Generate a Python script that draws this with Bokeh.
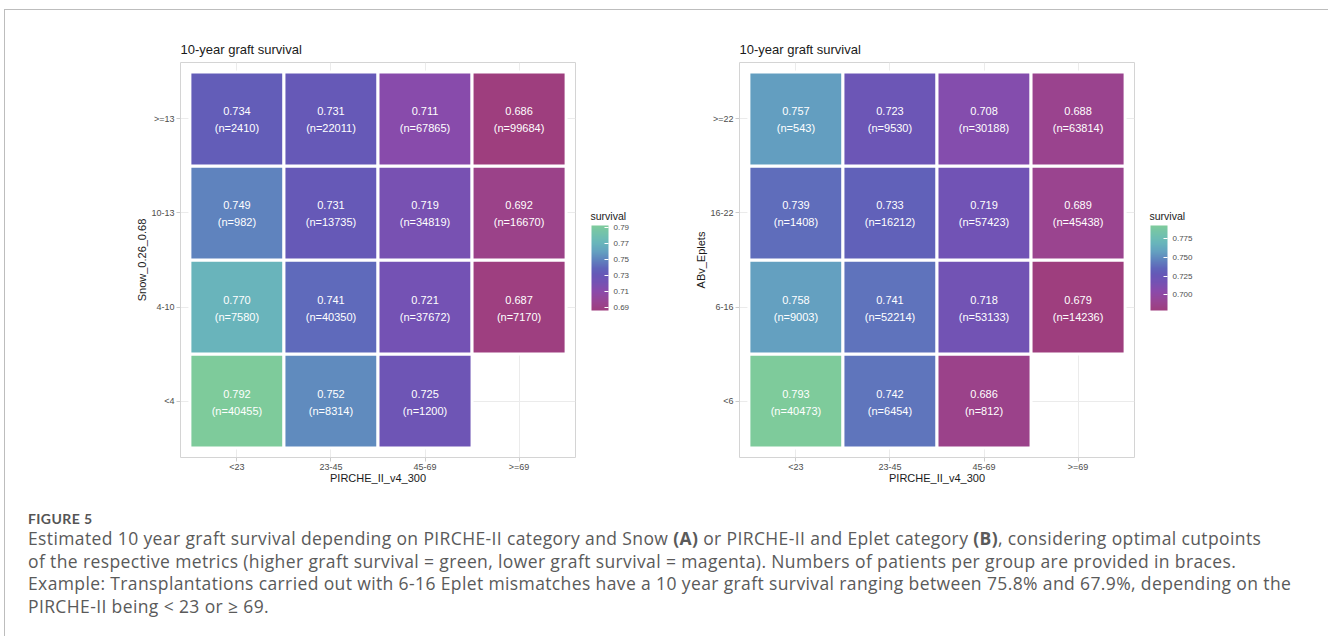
from bokeh.plotting import figure
from bokeh.models import (ColumnDataSource, FactorRange, LinearColorMapper, ColorBar,
                          FixedTicker, PrintfTickFormatter, Div)
from bokeh.layouts import row, column
from bokeh.transform import transform
from bokeh.core.properties import value
from bokeh.embed import file_html
from bokeh.resources import INLINE

# ---------------- data ----------------
pirche_cats = ["<23", "23-45", "45-69", ">=69"]

snow_cats = ["<4", "4-10", "10-13", ">=13"]          # bottom -> top
snow_survival = [
    [0.792, 0.752, 0.725, None],
    [0.770, 0.741, 0.721, 0.687],
    [0.749, 0.731, 0.719, 0.692],
    [0.734, 0.731, 0.711, 0.686],
]
snow_n = [
    [40455, 8314, 1200, None],
    [7580, 40350, 37672, 7170],
    [982, 13735, 34819, 16670],
    [2410, 22011, 67865, 99684],
]
snow_ticks = [0.69, 0.71, 0.73, 0.75, 0.77, 0.79]

eplet_cats = ["<6", "6-16", "16-22", ">=22"]        # bottom -> top
eplet_survival = [
    [0.793, 0.742, 0.686, None],
    [0.758, 0.741, 0.718, 0.679],
    [0.739, 0.733, 0.719, 0.689],
    [0.757, 0.723, 0.708, 0.688],
]
eplet_n = [
    [40473, 6454, 812, None],
    [9003, 52214, 53133, 14236],
    [1408, 16212, 57423, 45438],
    [543, 9530, 30188, 63814],
]
eplet_ticks = [0.700, 0.725, 0.750, 0.775]

# ---------------- palette (style) ----------------
anchors = [
    (0.00, "#9e3e7e"), (0.10, "#994592"), (0.22, "#8b4aaa"), (0.33, "#7452b4"),
    (0.42, "#6658b7"), (0.50, "#5f65ba"), (0.60, "#5f84be"), (0.70, "#64a2c0"),
    (0.80, "#69b6bb"), (0.90, "#72c2ac"), (1.00, "#7ecb9b"),
]


def hex2rgb(h):
    return tuple(int(h[i:i + 2], 16) for i in (1, 3, 5))


def build_palette(n=256):
    out = []
    for k in range(n):
        t = k / (n - 1)
        for (t0, c0), (t1, c1) in zip(anchors[:-1], anchors[1:]):
            if t0 <= t <= t1:
                f = (t - t0) / (t1 - t0)
                a, b = hex2rgb(c0), hex2rgb(c1)
                rgb = [round(a[i] + (b[i] - a[i]) * f) for i in range(3)]
                out.append("#%02x%02x%02x" % tuple(rgb))
                break
    return out


PALETTE = build_palette()
FONT = "Liberation Sans"
FRAME = 395
FIG_W = 661
TOP = 52
BOTTOM = 40
FIG_H = TOP + FRAME + BOTTOM


def make_panel(ycats, surv, ns, ylabel, ticks, fmt, left_border):
    xs, ys, ss, l1, l2 = [], [], [], [], []
    for yi, yc in enumerate(ycats):
        for xi, xc in enumerate(pirche_cats):
            v = surv[yi][xi]
            if v is None:
                continue
            xs.append(xc)
            ys.append(yc)
            ss.append(v)
            l1.append(f"{v:.3f}")
            l2.append(f"(n={ns[yi][xi]})")
    src = ColumnDataSource(dict(x=xs, y=ys, s=ss, l1=l1, l2=l2))
    vals = [v for r in surv for v in r if v is not None]
    mapper = LinearColorMapper(palette=PALETTE, low=min(vals), high=max(vals))

    p = figure(
        x_range=FactorRange(*pirche_cats, range_padding=0.1, range_padding_units="absolute"),
        y_range=FactorRange(*ycats, range_padding=0.1, range_padding_units="absolute"),
        frame_width=FRAME, frame_height=FRAME,
        min_border_left=left_border, min_border_right=FIG_W - left_border - FRAME,
        min_border_top=TOP, min_border_bottom=BOTTOM,
        title="10-year graft survival",
        output_backend="svg", toolbar_location=None,
    )
    p.title.text_font = FONT
    p.title.text_font_size = "13px"
    p.title.text_font_style = "normal"
    p.title.text_color = "#1a1a1a"
    p.title.align = "left"
    p.title.standoff = 11

    p.rect(x="x", y="y", width=1, height=1, source=src,
           fill_color=transform("s", mapper), line_color="white", line_width=3)
    p.text(x="x", y="y", text="l1", source=src, y_offset=-7.5,
           text_align="center", text_baseline="middle", text_color="white",
           text_font_size="11px", text_font=value(FONT))
    p.text(x="x", y="y", text="l2", source=src, y_offset=9.5,
           text_align="center", text_baseline="middle", text_color="white",
           text_font_size="11px", text_font=value(FONT))

    p.outline_line_color = "#d4d4d4"
    p.outline_line_width = 1
    p.xgrid.grid_line_color = "#ebebeb"
    p.ygrid.grid_line_color = "#ebebeb"

    for ax in (p.xaxis[0], p.yaxis[0]):
        ax.axis_line_color = None
        ax.major_tick_line_color = "#cccccc"
        ax.major_tick_out = 4
        ax.major_tick_in = 0
        ax.major_label_text_font = FONT
        ax.major_label_text_font_size = "9px"
        ax.major_label_text_color = "#4d4d4d"
        ax.major_label_standoff = 2
        ax.axis_label_text_font = FONT
        ax.axis_label_text_font_size = "11px"
        ax.axis_label_text_font_style = "normal"
        ax.axis_label_text_color = "#1a1a1a"
        ax.axis_label_standoff = 0
    p.xaxis.major_label_standoff = 0
    p.xaxis.axis_label_standoff = -3
    p.xaxis.axis_label = "PIRCHE_II_v4_300"
    p.yaxis.axis_label = ylabel

    cb = ColorBar(
        color_mapper=mapper, ticker=FixedTicker(ticks=ticks),
        formatter=PrintfTickFormatter(format=fmt),
        width=17, height=85, location=(FRAME + 16, 147),
        margin=0, padding=0,
        major_label_text_font=FONT, major_label_text_font_size="8px",
        major_label_text_color="#4d4d4d", label_standoff=5,
        major_tick_line_color="white", major_tick_in=4, major_tick_out=0,
        bar_line_color=None, border_line_color=None, background_fill_color=None,
    )
    p.add_layout(cb)
    # legend title, drawn as the (horizontal) title of an invisible colour scale
    legend_title = ColorBar(
        color_mapper=mapper, ticker=FixedTicker(ticks=[]), orientation="horizontal",
        width=40, height=1, location=(FRAME + 15, 233), margin=0, padding=0,
        scale_alpha=0, major_tick_line_color=None, major_label_text_alpha=0,
        bar_line_color=None, border_line_color=None, background_fill_color=None,
        title="survival", title_text_font=FONT, title_text_font_size="10.5px",
        title_text_font_style="normal", title_text_color="#1a1a1a", title_standoff=4,
    )
    p.add_layout(legend_title)
    return p


pA = make_panel(snow_cats, snow_survival, snow_n, "Snow_0.26_0.68",
                snow_ticks, "%.2f", 175)
pB = make_panel(eplet_cats, eplet_survival, eplet_n, "ABv_Eplets",
                eplet_ticks, "%.3f", 73)

pad_top = 512 - 5 - (10 + FIG_H)
caption_html = (
    f'<div style="color:#5a5a5a; white-space:nowrap; padding-left:18px; padding-top:{pad_top}px;">'
    '<div style="font-family:Lato; font-size:14px; font-weight:700; line-height:14px; '
    'letter-spacing:0.4px; color:#555555;">FIGURE 5</div>'
    '<div style="font-family:\'Open Sans\'; font-size:17.5px; line-height:22.6px; '
    'letter-spacing:0.38px; margin-top:1.2px;">'
    'Estimated 10 year graft survival depending on PIRCHE-II category and Snow <b>(A)</b> or PIRCHE-II '
    'and Eplet category <b>(B)</b>, considering optimal cutpoints<br>'
    'of the respective metrics (higher graft survival = green, lower graft survival = magenta). '
    'Numbers of patients per group are provided in braces.<br>'
    'Example: Transplantations carried out with 6-16 Eplet mismatches have a 10 year graft survival '
    'ranging between 75.8% and 67.9%, depending on the<br>'
    'PIRCHE-II being &lt; 23 or \u2265 69.'
    '</div></div>'
)
caption = Div(text=caption_html, width=2 * FIG_W, height=635 - 10 - FIG_H)

layout = column(
    row(pA, pB), caption,
    margin=(9, 0, 0, 4),
    styles={"border-top": "1px solid #bdbdbd", "border-left": "1px solid #bdbdbd",
            "border-right": "1px solid #bdbdbd"},
)

open("out.html", "w").write(file_html(layout, INLINE))
